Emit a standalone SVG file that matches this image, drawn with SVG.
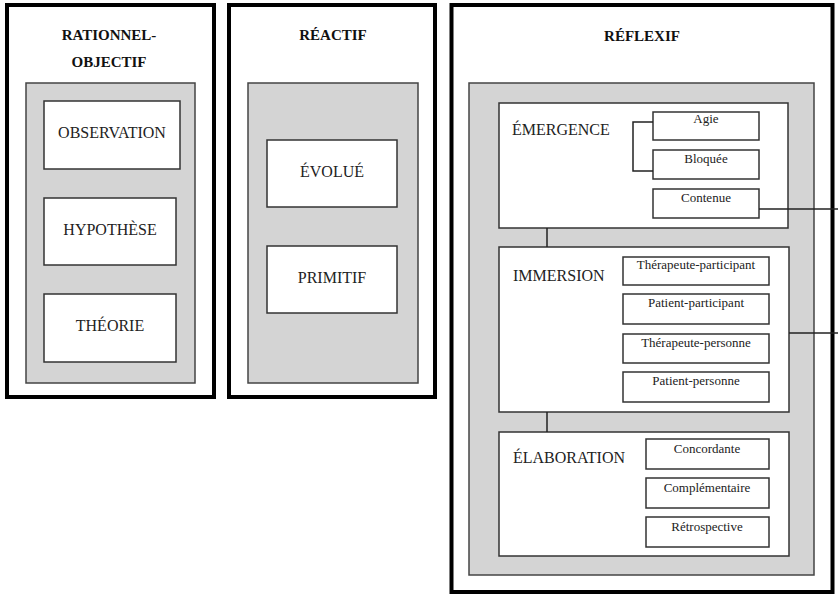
<svg xmlns="http://www.w3.org/2000/svg" width="838" height="595" viewBox="0 0 838 595">
<style>
.outer{fill:#fff;stroke:#000;stroke-width:4}
.gray{fill:#d4d4d4;stroke:#444;stroke-width:1.5}
.box{fill:#fff;stroke:#333;stroke-width:1.5}
.title{font-family:"Liberation Serif","Times New Roman",serif;font-weight:bold;font-size:15px;fill:#111;text-anchor:middle}
.big{font-family:"Liberation Serif","Times New Roman",serif;font-size:16px;fill:#222;text-anchor:middle}
.lbl{font-family:"Liberation Serif","Times New Roman",serif;font-size:16px;fill:#222}
.sm{font-family:"Liberation Serif","Times New Roman",serif;font-size:13px;fill:#222;text-anchor:middle}
.ln{fill:none;stroke:#222;stroke-width:1.5}
</style>
<rect width="838" height="595" fill="#fff"/>
<g id="panel-rationnel">
<rect class="outer" x="7" y="5" width="207" height="392"/>
<text class="title" x="109" y="40">RATIONNEL-</text>
<text class="title" x="109" y="67">OBJECTIF</text>
<rect class="gray" x="26" y="83" width="169" height="300"/>
</g>
<g id="observation"><rect class="box" x="44" y="101" width="136" height="68"/><text class="big" x="112" y="138">OBSERVATION</text></g>
<g id="hypothese"><rect class="box" x="44" y="198" width="132" height="67"/><text class="big" x="110" y="235">HYPOTHÈSE</text></g>
<g id="theorie"><rect class="box" x="44" y="294" width="132" height="68"/><text class="big" x="110" y="331">THÉORIE</text></g>
<g id="panel-reactif">
<rect class="outer" x="229" y="5" width="206" height="392"/>
<text class="title" x="333" y="40">RÉACTIF</text>
<rect class="gray" x="248" y="83" width="170" height="300"/>
</g>
<g id="evolue"><rect class="box" x="267" y="140" width="130" height="67"/><text class="big" x="332" y="177">ÉVOLUÉ</text></g>
<g id="primitif"><rect class="box" x="267" y="246" width="130" height="67"/><text class="big" x="332" y="283">PRIMITIF</text></g>
<g id="panel-reflexif">
<rect class="outer" x="451.5" y="5" width="381" height="587"/>
<text class="title" x="642" y="41">RÉFLEXIF</text>
<rect class="gray" x="469" y="83" width="345" height="492"/>
</g>
<g id="emergence"><rect class="box" x="499" y="103" width="289" height="125"/><text class="lbl" x="512" y="135">ÉMERGENCE</text></g>
<g id="agie"><rect class="box" x="653" y="112" width="106" height="28"/><text class="sm" x="706" y="123">Agie</text></g>
<g id="bloquee"><rect class="box" x="653" y="150" width="106" height="29"/><text class="sm" x="706" y="163">Bloquée</text></g>
<g id="contenue"><rect class="box" x="653" y="189" width="106" height="29"/><text class="sm" x="706" y="202">Contenue</text></g>
<g id="immersion"><rect class="box" x="499" y="247" width="290" height="165"/><text class="lbl" x="513" y="281">IMMERSION</text></g>
<g id="therapeute-participant"><rect class="box" x="623" y="257" width="146" height="28"/><text class="sm" x="696" y="269">Thérapeute-participant</text></g>
<g id="patient-participant"><rect class="box" x="623" y="294" width="146" height="30"/><text class="sm" x="696" y="307">Patient-participant</text></g>
<g id="therapeute-personne"><rect class="box" x="623" y="334" width="146" height="29"/><text class="sm" x="696" y="347">Thérapeute-personne</text></g>
<g id="patient-personne"><rect class="box" x="623" y="372" width="146" height="30"/><text class="sm" x="696" y="385">Patient-personne</text></g>
<g id="elaboration"><rect class="box" x="499" y="432" width="290" height="124"/><text class="lbl" x="513" y="463">ÉLABORATION</text></g>
<g id="concordante"><rect class="box" x="646" y="439" width="123" height="30"/><text class="sm" x="707" y="453">Concordante</text></g>
<g id="complementaire"><rect class="box" x="646" y="478" width="123" height="30"/><text class="sm" x="707" y="492">Complémentaire</text></g>
<g id="retrospective"><rect class="box" x="646" y="517" width="123" height="30"/><text class="sm" x="707" y="531">Rétrospective</text></g>
<g id="connectors">
<path class="ln" d="M547 228V247M547 412V432"/>
<path class="ln" d="M653 122H633V171H653"/>
<path class="ln" d="M759 209H838"/>
<path class="ln" d="M789 333H838"/>
</g>
</svg>
